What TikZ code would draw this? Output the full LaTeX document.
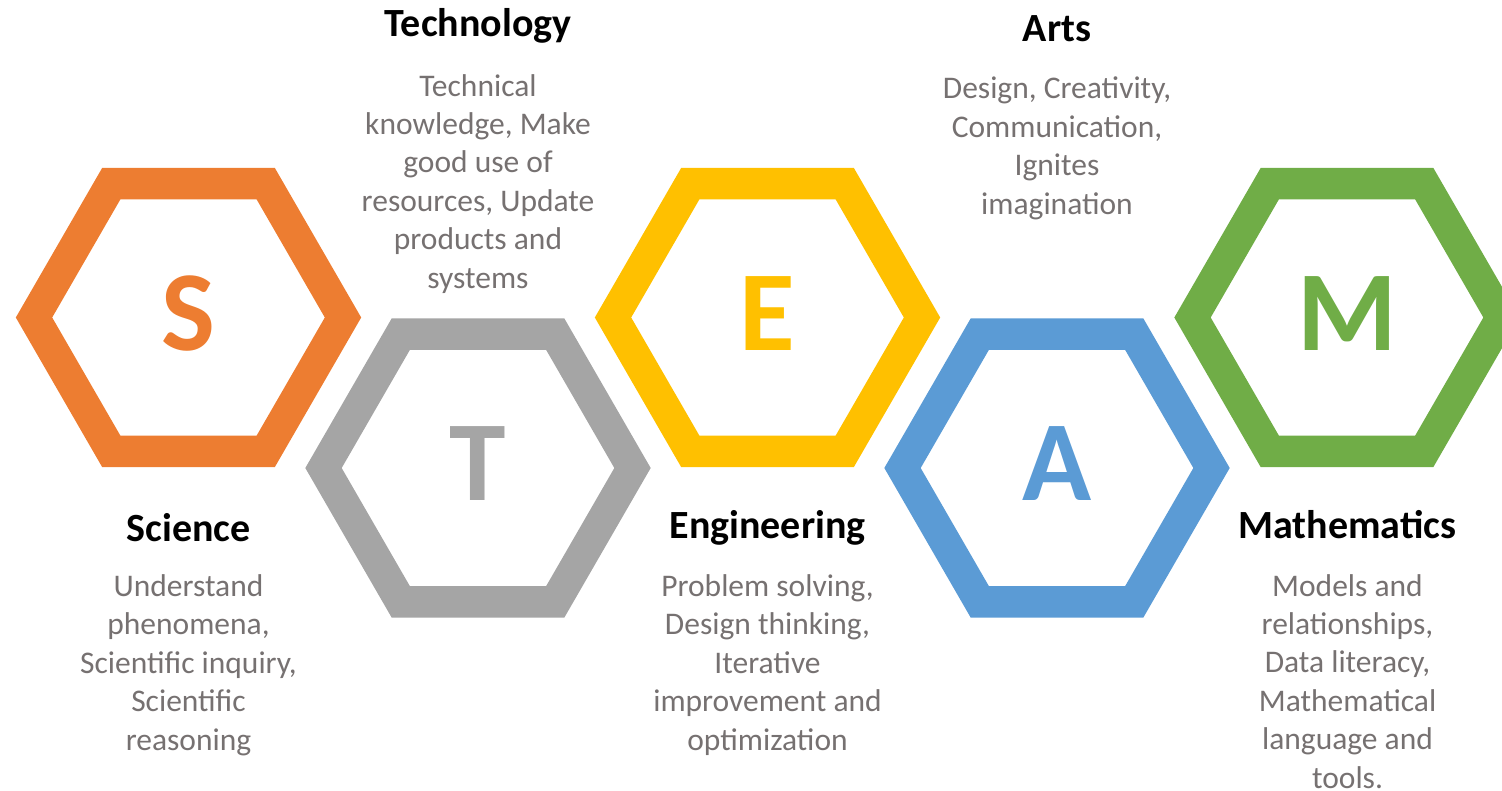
\documentclass[tikz,border=0pt]{standalone}
\usepackage{fontspec}
\setmainfont{Carlito}
\usetikzlibrary{shapes.geometric}
\definecolor{sorange}{HTML}{ED7D31}
\definecolor{tgray}{HTML}{A5A5A5}
\definecolor{eyellow}{HTML}{FFC000}
\definecolor{ablue}{HTML}{5B9BD5}
\definecolor{mgreen}{HTML}{70AD47}
\definecolor{bodygray}{HTML}{767171}

\begin{document}
\begin{tikzpicture}[x=0.5pt,y=-0.5pt,
  hexa/.style={regular polygon, regular polygon sides=6, minimum size=154.5pt, inner sep=0pt,
    line width=15.75pt, font=\fontsize{57}{57}\selectfont\bfseries, text depth=4pt},
  head/.style={anchor=base, font=\fontsize{20}{24}\selectfont\bfseries},
  body/.style={anchor=base, align=center, text=bodygray, font=\fontsize{15.75}{19.2}\selectfont}]
\clip (0,0) rectangle (1502,791);
\node[hexa, draw=sorange, text=sorange] (s) at (188.5,317.5) {S};
\node[hexa, draw=tgray, text=tgray] (t) at (478,468) {T};
\node[hexa, draw=eyellow, text=eyellow] (e) at (767.5,317.5) {E};
\node[hexa, draw=ablue, text=ablue] (a) at (1057,468) {A};
\node[hexa, draw=mgreen, text=mgreen] (m) at (1347,317.5) {M};
% headings
\node[head] (sh) at (188.5,541) {Science};
\node[head] (th) at (478,37) {Technology};
\node[head] (eh) at (767.5,538) {Engineering};
\node[head] (ah) at (1057,42) {Arts};
\node[head] (mh) at (1347.5,538) {Mathematics};
% descriptions (base = last line)
\node[body] (sb) at (188.5,750) {Understand\\phenomena,\\Scientific inquiry,\\Scientific\\reasoning};
\node[body] (tb) at (478,288) {Technical\\knowledge, Make\\good use of\\resources, Update\\products and\\systems};
\node[body] (eb) at (767.5,750) {Problem solving,\\Design thinking,\\Iterative\\improvement and\\optimization};
\node[body] (ab) at (1057,214) {Design, Creativity,\\Communication,\\Ignites\\imagination};
\node[body] (mb) at (1347.5,788) {Models and\\relationships,\\Data literacy,\\Mathematical\\language and\\tools.};
\end{tikzpicture}
\end{document}
